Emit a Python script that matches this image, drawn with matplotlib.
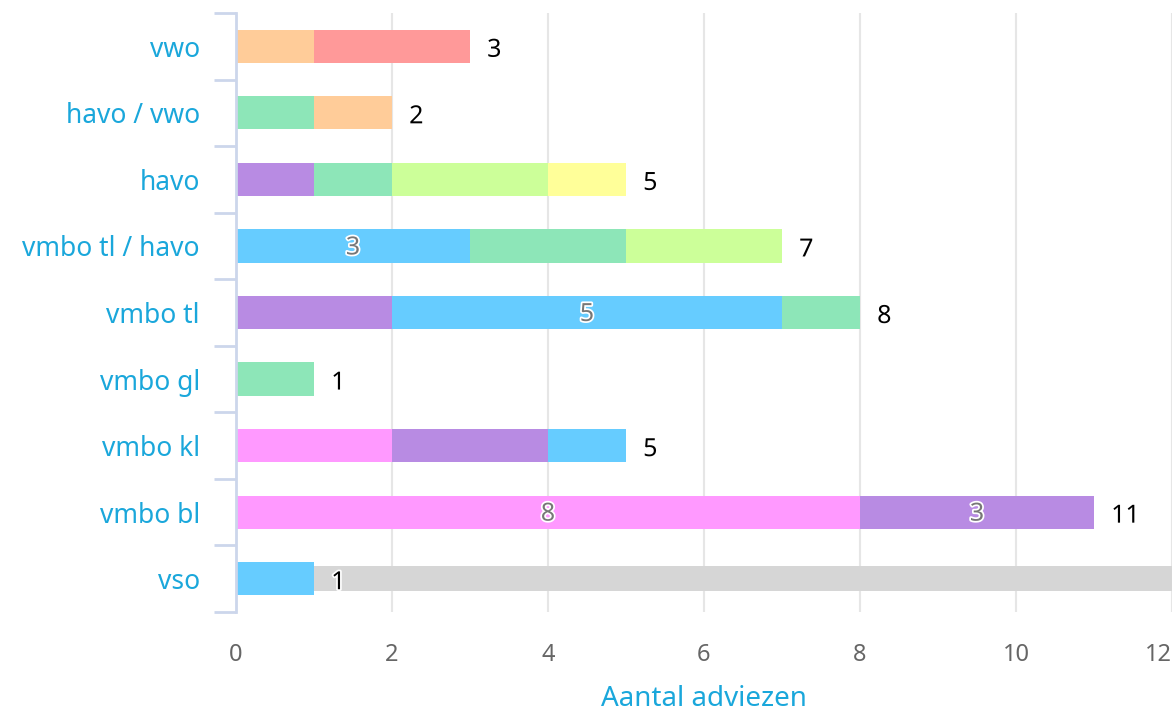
import matplotlib
matplotlib.use("Agg")
import matplotlib.pyplot as plt
import matplotlib.patheffects as pe
import numpy as np

plt.rcParams['font.family'] = ['Noto Sans', 'DejaVu Sans']

categories = ["vwo", "havo / vwo", "havo", "vmbo tl / havo", "vmbo tl",
              "vmbo gl", "vmbo kl", "vmbo bl", "vso"]
pink   = [0, 0, 0, 0, 0, 0, 2, 8, 0]
purple = [0, 0, 1, 0, 2, 0, 2, 3, 0]
blue   = [0, 0, 0, 3, 5, 0, 1, 0, 1]
green  = [0, 1, 1, 2, 1, 1, 0, 0, 0]
lime   = [0, 0, 2, 2, 0, 0, 0, 0, 0]
yellow = [0, 0, 1, 0, 0, 0, 0, 0, 0]
peach  = [1, 1, 0, 0, 0, 0, 0, 0, 0]
red    = [2, 0, 0, 0, 0, 0, 0, 0, 0]
background_vso = [0, 0, 0, 0, 0, 0, 0, 0, 12]
xticks = [0, 2, 4, 6, 8, 10, 12]
xlabel = "Aantal adviezen"

series = [pink, purple, blue, green, lime, yellow, peach, red]
colors = ["#FF99FF", "#B88BE3", "#66CCFF", "#8DE6B8", "#CCFF99", "#FFFF99", "#FFCC99", "#FF9999"]

fig = plt.figure(figsize=(11.73, 7.15), dpi=100)
ax = fig.add_axes([236/1173, 1 - 612/715, (1172-236)/1173, (612-13)/715])

y = np.arange(len(categories))
ax.barh(y, background_vso, height=0.38, left=0, color="#D6D6D6", zorder=2)

left = np.zeros(len(categories))
for vals, col in zip(series, colors):
    vals = np.array(vals, dtype=float)
    ax.barh(y, vals, height=0.5, left=left, color=col, zorder=3, linewidth=0)
    for i, v in enumerate(vals):
        if v >= 3:
            ax.text(left[i] + v / 2, y[i] + 0.03, f"{int(v)}", ha="center", va="center",
                    fontsize=18, color="#777777", zorder=5,
                    path_effects=[pe.withStroke(linewidth=2.5, foreground="white")])
    left += vals

totals = left
for i, t in enumerate(totals):
    ax.text(t + 0.22, y[i] + 0.06, f"{int(t)}", ha="left", va="center",
            fontsize=18, color="black", zorder=5,
            path_effects=[pe.withStroke(linewidth=2.5, foreground="white")])

ax.set_xlim(0, 12)
ax.set_ylim(len(categories) - 0.5, -0.5)
ax.set_xticks(xticks)
ax.set_xticklabels([str(v) for v in xticks])
ax.get_xticklabels()[-1].set_horizontalalignment("right")
ax.set_yticks(y)
ax.set_yticklabels(categories)
ax.set_yticks(np.arange(-0.5, len(categories)), minor=True)

ax.tick_params(axis="y", which="major", length=0, pad=26, labelsize=19, labelcolor="#1AA7DB")
ax.tick_params(axis="y", which="minor", length=16, width=2, color="#CCD6EB")
ax.tick_params(axis="x", which="major", length=0, pad=22, labelsize=17, labelcolor="#666666")

ax.grid(axis="x", color="#E6E6E6", linewidth=1.5, zorder=0)
ax.set_axisbelow(True)
for s in ["top", "right", "bottom"]:
    ax.spines[s].set_visible(False)
ax.spines["left"].set_color("#CCD6EB")
ax.spines["left"].set_linewidth(2)
ax.spines["left"].set_zorder(6)

ax.set_xlabel(xlabel, fontsize=20, color="#1AA7DB", labelpad=13)

fig.savefig("out.png", dpi=100)
